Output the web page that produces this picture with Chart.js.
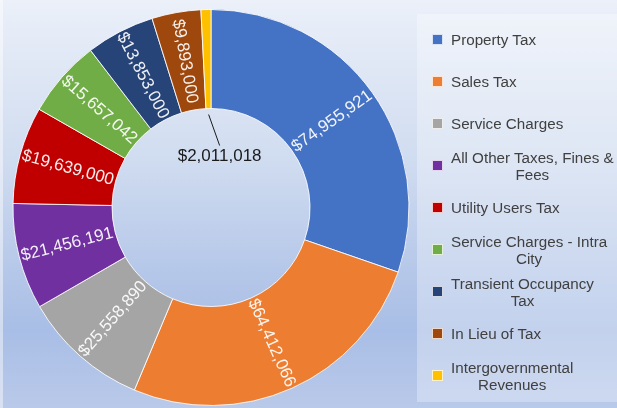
<!DOCTYPE html>
<html>
<head>
<meta charset="utf-8">
<script src="https://cdn.jsdelivr.net/npm/chart.js@4.4.1/dist/chart.umd.min.js"></script>
<style>
  html, body { margin: 0; padding: 0; }
  body {
    width: 617px; height: 408px; overflow: hidden; position: relative;
    background: linear-gradient(to bottom, #ebf0f9 0%, #d0dcf0 39%, #b6c8e9 66%, #a9bee6 81%, #b9c9e9 100%);
    font-family: "Liberation Sans", Arial, sans-serif;
  }
  #edge { position: absolute; left: 0; top: 0; width: 3px; height: 408px; background: rgba(255,255,255,0.45); }
  #wrap { position: absolute; left: 0; top: 0; width: 422px; height: 408px; }
  #legend {
    position: absolute; left: 417px; top: 14px; width: 200px; height: 388px;
    background: rgba(255,255,255,0.3); box-sizing: border-box; padding-top: 4.5px;
  }
  .item { height: 42px; display: flex; align-items: center; padding-left: 15px; }
  .box { width: 9px; height: 9px; border: 1px solid rgba(255,255,255,0.8); margin-right: 8px; flex: none; }
  .txt { display: inline-block; white-space: pre; text-align: center; font-size: 15.2px; line-height: 17px; color: #404040; }
</style>
</head>
<body>
<div id="edge"></div>
<div id="wrap"><canvas id="revChart"></canvas></div>
<div id="legend"></div>
<script>
const categories = ['Property Tax', 'Sales Tax', 'Service Charges', 'All Other Taxes, Fines & Fees',
  'Utility Users Tax', 'Service Charges - Intra City', 'Transient Occupancy Tax', 'In Lieu of Tax',
  'Intergovernmental Revenues'];
const revenues = [74955921, 64412066, 25558890, 21456191, 19639000, 15657042, 13853000, 9893000, 2011018];
const colors = ['#4472C4', '#ED7D31', '#A5A5A5', '#7030A0', '#C00000', '#70AD47', '#264478', '#9E480E', '#FFC000'];

const money = v => '$' + v.toLocaleString('en-US');

// value labels: rotated along the slice, small slice gets a leader line into the hole
const sliceLabels = {
  id: 'sliceLabels',
  afterDatasetsDraw(chart) {
    const c = chart.ctx;
    const meta = chart.getDatasetMeta(0);
    c.save();
    c.font = '17px "Liberation Sans", Arial, sans-serif';
    c.textAlign = 'center';
    c.textBaseline = 'middle';
    meta.data.forEach((arc, i) => {
      const p = arc.getProps(['x', 'y', 'startAngle', 'endAngle', 'innerRadius', 'outerRadius']);
      const mid = (p.startAngle + p.endAngle) / 2;
      const text = money(revenues[i]);
      if (i === revenues.length - 1) {
        const ax = p.x + Math.cos(mid) * (p.innerRadius - 6);
        const ay = p.y + Math.sin(mid) * (p.innerRadius - 6);
        const bx = ax + 11, by = ay + 31;
        c.strokeStyle = '#1a1a1a';
        c.lineWidth = 1;
        c.beginPath(); c.moveTo(ax, ay); c.lineTo(bx, by); c.stroke();
        c.fillStyle = '#1a1a1a';
        c.fillText(text, bx, by + 11);
        return;
      }
      const r = (p.innerRadius + p.outerRadius) / 2;
      const tx = p.x + Math.cos(mid) * r;
      const ty = p.y + Math.sin(mid) * r;
      let rot = mid;
      if (Math.cos(mid) < 0) rot += Math.PI;
      c.save();
      c.translate(tx, ty);
      c.rotate(rot);
      c.fillStyle = 'rgba(255,255,255,0.92)';
      c.fillText(text, 0, 0);
      c.restore();
    });
    c.restore();
  }
};

const ctx = document.getElementById('revChart').getContext('2d');
const chart = new Chart(ctx, {
  type: 'doughnut',
  data: {
    labels: categories,
    datasets: [{
      data: revenues,
      backgroundColor: colors,
      borderColor: 'rgba(255,255,255,0.85)',
      borderWidth: 1
    }]
  },
  options: {
    responsive: true,
    maintainAspectRatio: false,
    animation: false,
    cutout: '50%',
    layout: { padding: { left: 12, right: 12, top: 9, bottom: 2 } },
    plugins: { legend: { display: false }, tooltip: { enabled: false } }
  },
  plugins: [sliceLabels]
});

// html legend, wrapped and centred like the original
const meas = document.createElement('canvas').getContext('2d');
meas.font = '15.2px "Liberation Sans", Arial, sans-serif';
function wrap(str, maxW) {
  const words = str.split(' ');
  const lines = [];
  let line = '';
  words.forEach(w => {
    const test = line ? line + ' ' + w : w;
    if (line && meas.measureText(test).width > maxW) { lines.push(line); line = w; }
    else line = test;
  });
  lines.push(line);
  return lines.join('\n');
}
const legend = document.getElementById('legend');
categories.forEach((name, i) => {
  const item = document.createElement('div');
  item.className = 'item';
  const box = document.createElement('span');
  box.className = 'box';
  box.style.background = colors[i];
  const txt = document.createElement('span');
  txt.className = 'txt';
  txt.textContent = wrap(name, 167);
  item.appendChild(box);
  item.appendChild(txt);
  legend.appendChild(item);
});
</script>
</body>
</html>
